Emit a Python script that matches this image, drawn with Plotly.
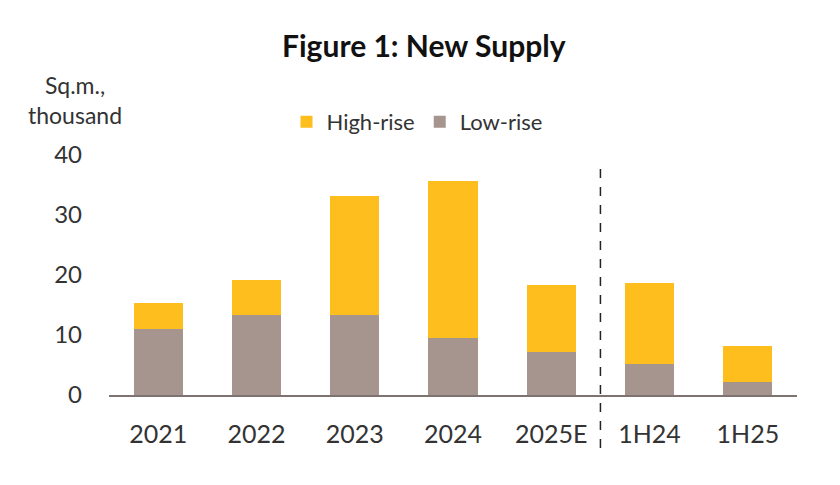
import plotly.graph_objects as go

categories = ["2021", "2022", "2023", "2024", "2025E", "1H24", "1H25"]
low_rise = [11.0, 13.3, 13.3, 9.5, 7.1, 5.2, 2.1]
high_rise_total = [15.4, 19.2, 33.2, 35.7, 18.3, 18.7, 8.1]
high_rise = [round(t - l, 1) for t, l in zip(high_rise_total, low_rise)]

FONT = "Lato"
TXT = "#333333"

fig = go.Figure()
fig.add_trace(go.Bar(x=categories, y=low_rise, name="Low-rise",
                     marker=dict(color="#A6958F", line=dict(width=0))))
fig.add_trace(go.Bar(x=categories, y=high_rise, name="High-rise",
                     marker=dict(color="#FDBE1E", line=dict(width=0))))

fig.update_layout(
    width=840, height=485,
    barmode="stack", bargap=0.5,
    plot_bgcolor="white", paper_bgcolor="white",
    margin=dict(l=101, r=51, t=147, b=98),
    font=dict(family=FONT, color=TXT),
    title=dict(text="<b>Figure 1: New Supply</b>", x=0.495, xanchor="center",
               y=1 - 38 / 485, yanchor="middle", xref="container", yref="container",
               font=dict(size=30, color="#111111", family=FONT)),
    showlegend=True,
    legend=dict(orientation="h", traceorder="reversed", x=0.258, xanchor="left",
                y=1.1375, yanchor="middle",
                font=dict(size=22, color=TXT), itemwidth=30, tracegroupgap=0,
                bgcolor="rgba(0,0,0,0)"),
    xaxis=dict(showline=True, linecolor="#7F7372", linewidth=2, ticks="", automargin=False,
               showgrid=False, tickfont=dict(size=25, color=TXT), ticklabelstandoff=16),
    yaxis=dict(range=[0, 40], dtick=10, showgrid=False, zeroline=False, showline=False,
               automargin=False,
               ticks="", tickfont=dict(size=24, color=TXT), ticklabelstandoff=26),
)

fig.add_annotation(text="Sq.m.,<br>thousand", xref="paper", yref="paper",
                   x=-0.049, y=1.23, xanchor="center", yanchor="middle", showarrow=False,
                   font=dict(size=23, color=TXT, family=FONT), align="center")

fig.add_shape(type="line", xref="x", yref="paper", x0=4.5, x1=4.5, y0=-0.221, y1=0.958,
              line=dict(color="#222222", width=1.5, dash="dash"))

fig.write_html("out.html")
